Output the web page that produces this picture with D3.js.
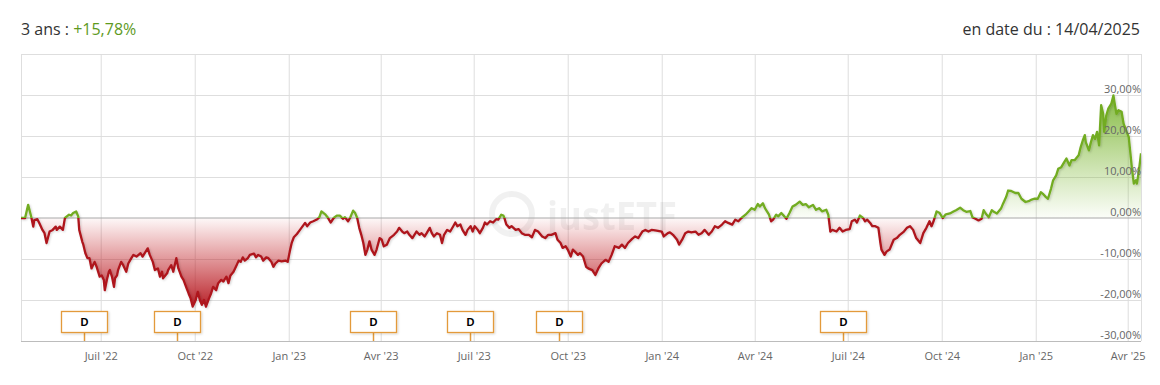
<!DOCTYPE html>
<html><head><meta charset="utf-8">
<script src="https://cdn.jsdelivr.net/npm/d3@7"></script>
<style>
body{margin:0;background:#fff;}
svg{display:block;font-family:"Open Sans",sans-serif;}
</style>
</head><body>
<svg id="chart" width="1160" height="385"></svg>
<script>
// ---------- data ----------
const startDate = "2022-04-14";
const endDate = "2025-04-14";
// day offsets from startDate
const days = [
0,4,7,10,12,13,16,18,21,23,
25,28,31,34,35,38,41,43,47,49,
51,54,56,57,60,61,63,65,67,69,
72,74,77,79,81,82,84,86,87,89,
91,92,94,95,98,100,103,105,108,110,
113,117,119,122,124,126,129,131,134,136,
138,139,143,144,147,149,152,154,157,159,
162,164,166,168,171,173,175,177,179,181,
184,186,188,191,193,196,198,201,203,205,
208,211,213,215,217,219,222,224,228,230,
232,235,237,240,242,245,247,249,252,255,
259,261,263,265,267,270,273,278,280,283,
286,290,292,294,298,300,303,306,309,312,
315,317,320,322,325,327,329,331,333,335,
337,339,341,343,346,348,351,353,355,358,
361,365,368,370,373,375,378,380,383,385,
387,390,392,395,397,400,402,404,407,410,
412,414,417,420,423,425,427,430,432,435,
437,440,442,444,447,449,452,454,456,459,
462,465,467,470,472,473,475,478,480,484,
487,490,493,497,500,503,506,510,513,516,
519,523,525,528,530,533,535,538,540,542,
545,547,550,553,555,559,562,565,568,572,
575,578,581,585,588,591,594,598,601,604,
608,611,614,617,622,627,629,633,635,638,
642,644,647,650,653,656,660,663,666,669,
673,676,679,682,686,689,692,696,699,702,
705,709,712,715,718,721,723,726,728,730,
732,734,736,739,741,744,747,749,752,755,
758,762,765,768,771,775,778,781,784,788,
790,792,794,798,801,804,807,811,813,816,
818,821,824,826,828,831,833,836,839,841,
842,845,847,850,854,857,860,864,867,870,
873,876,880,883,886,889,891,893,896,899,
902,905,909,912,915,919,922,925,929,931,
934,937,940,942,944,947,950,952,955,959,
961,964,966,969,973,976,979,983,986,989,
992,995,998,1000,1003,1005,1008,1010,1013,1015,
1018,1021,1023,1026,1028,1031,1035,1037,1039,1041,
1042,1045,1047,1049,1051,1053,1055,1057,1059,1060,
1062,1064,1067,1069,1070,1072,1074,1077,1079,1082,
1084,1086,1087,1089,1091,1092,1094,1096
];
// performance in % over 3 years
const perf = [
0,0,3.2,0.3,-2.1,-0.5,-0.3,-1.3,-2.9,-3.7,
-6.1,-3.3,-2.9,-2.1,-2.9,-2.1,-2.9,0,0.8,0.6,
1.2,1.6,0.4,-2.9,-5.8,-6.5,-8.6,-9.8,-9.8,-12.3,
-10.7,-11.9,-14.3,-14.0,-15.1,-17.6,-15.1,-13.1,-12.7,-14.3,
-16.8,-14.7,-14.0,-12.7,-10.7,-11.5,-13.1,-11.1,-9.8,-9.0,
-9.4,-8.6,-9.4,-8.2,-7.4,-9.0,-10.7,-12.7,-12.3,-14.3,
-13.1,-14.7,-13.5,-12.7,-11.5,-13.1,-9.8,-12.3,-14.3,-15.1,
-17.1,-18.4,-19.6,-21.6,-20.0,-18.0,-20.0,-21.2,-20.0,-21.6,
-19.6,-18.4,-16.8,-17.6,-15.9,-15.1,-15.5,-14.3,-15.9,-14.0,
-13.1,-11.5,-10.4,-10.7,-9.6,-10.4,-9.8,-9.0,-8.7,-9.6,
-9.0,-9.4,-10.4,-9.6,-9.8,-10.7,-11.9,-11.1,-10.4,-10.6,
-10.4,-10.7,-8.2,-6.0,-4.7,-3.9,-2.9,-1.2,-2.0,-1.1,
-0.8,-0.3,0.2,1.6,0.8,0.2,-1.1,0,0.6,0.6,
-0.2,0.2,-0.8,0,1.8,1.2,0,-2.4,-4.1,-6.1,
-9.0,-7.7,-5.7,-7.7,-9.0,-7.7,-4.9,-5.3,-6.9,-6.5,
-4.9,-4.1,-3.3,-2.4,-3.3,-3.7,-3.3,-4.1,-4.9,-4.1,
-3.3,-4.1,-3.7,-4.5,-3.7,-2.4,-3.7,-4.5,-3.7,-4.1,
-6.1,-4.1,-2.9,-3.3,-2.0,-1.1,-2.0,-1.6,-2.9,-4.1,
-2.9,-2.0,-3.3,-2.0,-2.9,-3.7,-2.4,-1.1,-1.6,-0.8,
-1.1,-0.3,-0.4,0.8,0.6,0,-1.6,-2.4,-2.0,-2.9,
-2.7,-3.7,-4.1,-4.1,-4.7,-2.9,-3.3,-4.5,-4.9,-4.1,
-4.1,-3.7,-5.3,-6.1,-7.3,-6.9,-7.7,-9.4,-7.7,-8.2,
-9.0,-8.6,-9.4,-11.9,-12.3,-12.7,-13.9,-12.3,-11.1,-10.2,
-10.7,-9.0,-6.9,-7.3,-6.5,-7.3,-6.1,-5.1,-4.5,-4.9,
-3.3,-2.9,-3.3,-2.9,-3.1,-3.3,-4.5,-3.7,-3.5,-4.1,
-5.3,-6.5,-5.3,-3.7,-3.3,-3.5,-3.3,-4.1,-3.7,-2.9,
-4.1,-3.3,-2.0,-2.4,-1.6,-0.8,-1.2,-1.6,-0.4,-0.8,
0,0.8,1.6,2.4,2.0,3.4,2.8,3.6,2.4,1.6,
0.8,-0.8,-0.4,0.8,0.4,1.2,0.4,-0.2,1.2,2.8,
3.2,4.0,3.2,3.4,2.6,3.2,2.0,2.4,1.6,2.0,
0.8,-3.3,-2.9,-3.3,-2.4,-3.3,-2.9,-2.7,-0.8,-0.4,
-1.1,0.6,0,-0.8,-0.4,-1.2,-2.0,-2.0,-2.4,-6.1,
-7.7,-9.0,-8.2,-7.7,-5.3,-4.9,-4.1,-3.3,-2.4,-2.0,
-2.9,-4.9,-6.1,-3.7,-2.4,-0.8,-2.0,-0.8,1.6,1.2,
0,0.9,1.1,1.5,1.9,2.5,1.9,1.5,1.7,0.2,
-0.2,-0.6,-0.2,1.9,1.1,0.2,1.9,1.5,1.1,2.3,
3.5,5.1,6.7,6.6,6.1,6.1,4.7,3.9,4.1,4.5,
4.7,4.7,6.3,5.9,5.1,4.7,7.2,9.2,10.4,12.0,
12.4,13.7,14.5,12.8,14.1,14.1,15.3,17.3,18.9,20.2,
18.5,16.5,18.5,20.2,19.3,21.0,17.7,27.5,25.4,21.0,
25.0,26.7,27.9,29.9,28.3,25.4,26.3,25.9,23.0,21.0,
19.8,14.9,12.4,8.4,9.2,8.4,11.6,15.78
];
const xTickDates = ["2022-07-01","2022-10-01","2023-01-01","2023-04-01","2023-07-01","2023-10-01",
                    "2024-01-01","2024-04-01","2024-07-01","2024-10-01","2025-01-01","2025-04-01"];
const xTickLabels = ["Juil '22","Oct '22","Jan '23","Avr '23","Juil '23","Oct '23",
                     "Jan '24","Avr '24","Juil '24","Oct '24","Jan '25","Avr '25"];
const yTicks = [-30,-20,-10,0,10,20,30];
const yTickLabels = ["-30,00%","-20,00%","-10,00%","0,00%","10,00%","20,00%","30,00%"];
const dividendDays = [62,153,344,439,526,804];
const dividendLabel = "D";
const periodText = "3 ans : ";
const perfText = "+15,78%";
const dateText = "en date du : 14/04/2025";
const watermark = "justETF";

// ---------- drawing ----------
const parse = d3.utcParse("%Y-%m-%d");
const t0 = parse(startDate);
const n = Math.min(days.length, perf.length);
const data = d3.range(n).map(i => ({date: d3.utcDay.offset(t0, days[i]), v: perf[i]}));

const L = 21, R = 1141, T = 54, B = 341;
const svg = d3.select("#chart");
const x = d3.scaleUtc().domain([t0, parse(endDate)]).range([L, R]);
const y = d3.scaleLinear().domain([-30, 40]).range([B, T]);
const y0 = y(0);

// header
const h = svg.append("text").attr("x", L).attr("y", 35).attr("font-size", 16).attr("fill", "#333");
h.append("tspan").text(periodText);
h.append("tspan").attr("fill", "#5e9a1e").text(perfText);
svg.append("text").attr("x", R - 1).attr("y", 35).attr("font-size", 16).attr("fill", "#333")
  .attr("text-anchor", "end").text(dateText);

// defs
const defs = svg.append("defs");
const gRed = defs.append("linearGradient").attr("id", "gRed").attr("gradientUnits", "userSpaceOnUse")
  .attr("x1", 0).attr("x2", 0).attr("y1", y0).attr("y2", y(-22));
gRed.append("stop").attr("offset", 0).attr("stop-color", "#c51d22").attr("stop-opacity", 0.03);
gRed.append("stop").attr("offset", 1).attr("stop-color", "#b3141c").attr("stop-opacity", 0.95);
const gGreen = defs.append("linearGradient").attr("id", "gGreen").attr("gradientUnits", "userSpaceOnUse")
  .attr("x1", 0).attr("x2", 0).attr("y1", y0).attr("y2", y(30));
gGreen.append("stop").attr("offset", 0).attr("stop-color", "#7cb82f").attr("stop-opacity", 0.03);
gGreen.append("stop").attr("offset", 1).attr("stop-color", "#6fae22").attr("stop-opacity", 0.85);
defs.append("clipPath").attr("id", "cAbove").append("rect")
  .attr("x", L).attr("y", 0).attr("width", R - L).attr("height", y0);
defs.append("clipPath").attr("id", "cBelow").append("rect")
  .attr("x", L).attr("y", y0).attr("width", R - L).attr("height", B - y0);
const sh = defs.append("filter").attr("id", "shadow").attr("x", "-20%").attr("y", "-20%")
  .attr("width", "140%").attr("height", "160%");
sh.append("feDropShadow").attr("dx", 1).attr("dy", 1).attr("stdDeviation", 0.8)
  .attr("flood-color", "#000").attr("flood-opacity", 0.18);

// grid
const grid = svg.append("g");
grid.append("g").attr("transform", `translate(${L},0)`)
  .call(d3.axisLeft(y).tickValues(yTicks.filter(v => v !== 0 && v !== -30).concat([40])).tickSize(-(R - L)).tickFormat(""))
  .call(g => g.select(".domain").remove())
  .call(g => g.selectAll("line").attr("stroke", "#dedede"));
grid.append("g").attr("transform", `translate(0,${T})`)
  .call(d3.axisBottom(x).tickValues(xTickDates.map(parse).concat([t0, parse(endDate)])).tickSize(B - T).tickFormat(""))
  .call(g => g.select(".domain").remove())
  .call(g => g.selectAll("line").attr("stroke", "#dedede"));

// watermark
const wm = svg.append("g").attr("opacity", 0.055);
wm.append("circle").attr("cx", 512).attr("cy", 214).attr("r", 20).attr("fill", "none")
  .attr("stroke", "#000").attr("stroke-width", 6);
wm.append("text").attr("x", 547).attr("y", 230).attr("font-size", 40).attr("font-weight", "bold")
  .attr("fill", "#000").attr("textLength", 130).attr("lengthAdjust", "spacingAndGlyphs").text(watermark);

// areas
const area = d3.area().x(d => x(d.date)).y0(y0).y1(d => y(d.v));
svg.append("path").datum(data).attr("d", area).attr("fill", "url(#gGreen)").attr("clip-path", "url(#cAbove)");
svg.append("path").datum(data).attr("d", area).attr("fill", "url(#gRed)").attr("clip-path", "url(#cBelow)");

// zero line
svg.append("line").attr("x1", L).attr("x2", R).attr("y1", y0).attr("y2", y0).attr("stroke", "#a8a8a8");

// line
const line = d3.line().x(d => x(d.date)).y(d => y(d.v));
const lines = svg.append("g").attr("filter", "url(#shadow)");
lines.append("path").datum(data).attr("d", line).attr("fill", "none").attr("stroke", "#72ac20")
  .attr("stroke-width", 2.3).attr("stroke-linejoin", "round").attr("clip-path", "url(#cAbove)");
lines.append("path").datum(data).attr("d", line).attr("fill", "none").attr("stroke", "#ae141c")
  .attr("stroke-width", 2.3).attr("stroke-linejoin", "round").attr("clip-path", "url(#cBelow)");

// x axis
const xa = svg.append("g").attr("transform", `translate(0,${B})`)
  .call(d3.axisBottom(x).tickValues(xTickDates.map(parse)).tickSize(0).tickPadding(0)
    .tickFormat((d, i) => xTickLabels[i]));
xa.select(".domain").attr("stroke", "#bcbcbc").attr("d", `M${L},0.5H${R}`);
xa.selectAll("text").attr("font-family", "Open Sans").attr("font-size", 11).attr("fill", "#666")
  .attr("dy", null).attr("y", 19);

// y labels
const ya = svg.append("g").attr("transform", `translate(${R},0)`)
  .call(d3.axisLeft(y).tickValues(yTicks).tickSize(0).tickPadding(0)
    .tickFormat((d, i) => yTickLabels[i]));
ya.select(".domain").remove();
ya.selectAll("text").attr("font-family", "Open Sans").attr("font-size", 11).attr("fill", "#666")
  .attr("dy", "-3").attr("text-anchor", "end").attr("x", 0)
  .attr("dominant-baseline", "auto");

// dividend flags
const flags = svg.append("g").selectAll("g").data(dividendDays).join("g")
  .attr("transform", d => `translate(${Math.round(x(d3.utcDay.offset(t0, d)))},0)`);
flags.append("line").attr("x1", 0.5).attr("x2", 0.5).attr("y1", 332).attr("y2", B)
  .attr("stroke", "#e39a3a").attr("stroke-width", 1.5);
flags.append("rect").attr("x", -22.5).attr("y", 311.5).attr("width", 46).attr("height", 21)
  .attr("fill", "#fff").attr("stroke", "#e39a3a").attr("stroke-width", 1.3)
  .attr("filter", "url(#shadow)");
flags.append("text").attr("x", 0.5).attr("y", 326).attr("text-anchor", "middle")
  .attr("font-size", 11).attr("font-weight", "bold").attr("font-family", "Arial, Liberation Sans, sans-serif")
  .attr("fill", "#000").text(dividendLabel);
</script>
</body></html>
